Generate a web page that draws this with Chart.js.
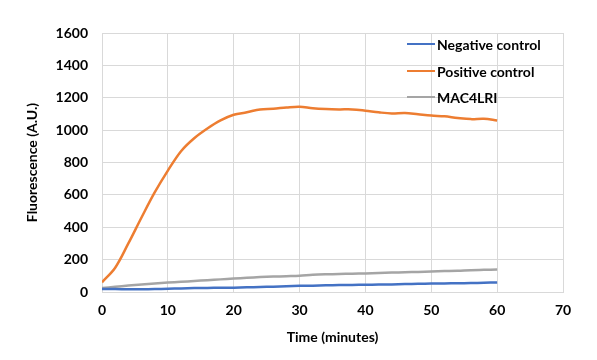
<!DOCTYPE html>
<html>
<head>
<meta charset="utf-8">
<script src="https://cdn.jsdelivr.net/npm/chart.js@4/dist/chart.umd.min.js"></script>
<style>
html,body{margin:0;padding:0;background:#fff;}
#wrap{width:597px;height:360px;position:relative;}
</style>
</head>
<body>
<div id="wrap"><canvas id="c" width="597" height="360"></canvas></div>
<script>
const timeMinutes = [0,2,4,6,8,10,12,14,16,18,20,22,24,26,28,30,32,34,36,38,40,42,44,46,48,50,52,54,56,58,60];
const negativeControl = [18,18,17,17,18,20,22,24,25,26,27,29,31,33,36,38,39,41,43,44,45,46,47,49,51,52,53,54,55,57,59];
const positiveControl = [60,150,300,460,615,750,870,950,1010,1060,1095,1110,1128,1132,1140,1145,1135,1130,1128,1128,1120,1110,1103,1106,1098,1090,1085,1075,1068,1070,1060];
const mac4lri = [25,32,40,47,53,58,63,68,73,78,83,88,92,95,98,101,106,109,111,113,115,118,120,122,124,127,129,131,135,137,139];
const seriesNames = ["Negative control","Positive control","MAC4LRI"];
const xTitle = "Time (minutes)";
const yTitle = "Fluorescence (A.U.)";

const colors = ["#4472C4","#ED7D31","#A5A5A5"];
const FONT = "Lato, 'Open Sans', sans-serif";

function pts(arr){ return timeMinutes.map((t,i)=>({x:t,y:arr[i]})); }

const insideLegend = {
  id:'insideLegend',
  afterDraw(chart){
    const ctx = chart.ctx;
    ctx.save();
    ctx.font = "bold 14px " + FONT;
    ctx.textBaseline = 'middle';
    ctx.textAlign = 'left';
    const x0 = 407, lineLen = 28, rows = [44,71,97];
    chart.data.datasets.forEach((ds,i)=>{
      const y = rows[i];
      ctx.strokeStyle = ds.borderColor;
      ctx.lineWidth = 2;
      ctx.beginPath();
      ctx.moveTo(x0,y);
      ctx.lineTo(x0+lineLen,y);
      ctx.stroke();
      ctx.fillStyle = '#000';
      ctx.fillText(ds.label, x0+lineLen+2, y+1);
    });
    ctx.restore();
  }
};

new Chart(document.getElementById('c'),{
  type:'line',
  data:{
    datasets:[
      {label:seriesNames[0],data:pts(negativeControl),borderColor:colors[0],backgroundColor:colors[0]},
      {label:seriesNames[1],data:pts(positiveControl),borderColor:colors[1],backgroundColor:colors[1]},
      {label:seriesNames[2],data:pts(mac4lri),borderColor:colors[2],backgroundColor:colors[2]}
    ]
  },
  options:{
    responsive:false,
    animation:false,
    devicePixelRatio:1,
    layout:{padding:{left:0,top:33,right:34,bottom:0}},
    elements:{
      line:{borderWidth:2.5,tension:0.35,fill:false},
      point:{radius:0}
    },
    plugins:{legend:{display:false},tooltip:{enabled:false}},
    scales:{
      x:{
        type:'linear',min:0,max:70,
        ticks:{stepSize:10,color:'#000',font:{family:FONT,size:14,weight:'bold'},padding:10,callback:v=>String(v)},
        grid:{color:'#D9D9D9',drawTicks:false,lineWidth:1},
        border:{color:'#D9D9D9'},
        title:{display:true,text:xTitle,color:'#000',font:{family:FONT,size:14,weight:'bold'},padding:{top:6,bottom:14}},
        afterFit(s){ s.height = 68; }
      },
      y:{
        min:0,max:1600,
        ticks:{stepSize:200,color:'#000',font:{family:FONT,size:14,weight:'bold'},padding:14,callback:v=>String(v)},
        grid:{color:'#D9D9D9',drawTicks:false,lineWidth:1},
        border:{color:'#D9D9D9'},
        title:{display:true,text:yTitle,color:'#000',font:{family:FONT,size:14,weight:'bold'},padding:{top:24,bottom:4}},
        afterFit(s){ s.width = 102; }
      }
    }
  },
  plugins:[insideLegend]
});
</script>
</body>
</html>
